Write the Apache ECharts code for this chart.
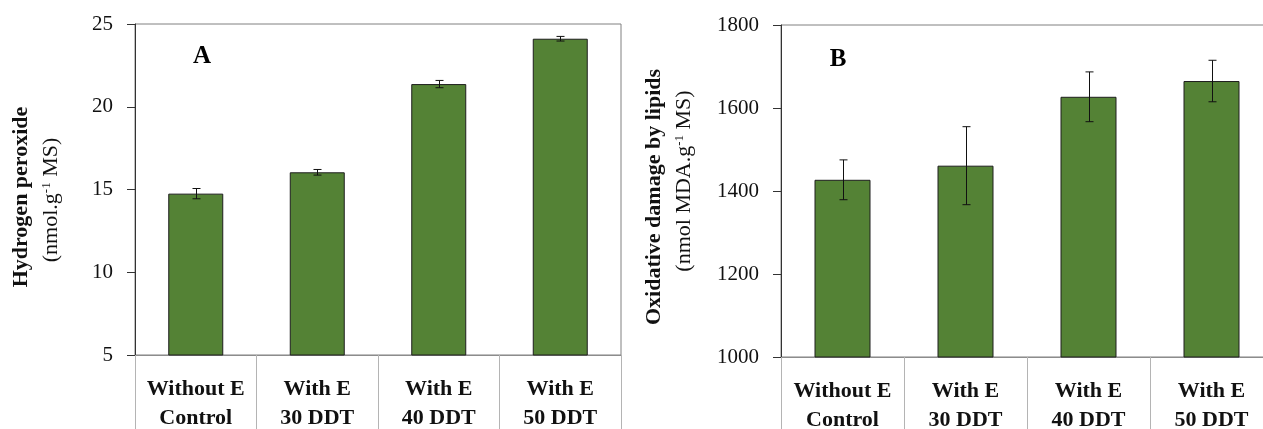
<!DOCTYPE html>
<html>
<head>
<meta charset="utf-8">
<script src="https://cdn.jsdelivr.net/npm/echarts@6/dist/echarts.min.js"></script>
<style>
  html, body { margin: 0; padding: 0; background: #fff; }
  #chart { width: 1263px; height: 429px; }
</style>
</head>
<body>
<div id="chart"></div>
<script>
// Treatment groups shared by both panels
const categories = ['Without E\nControl', 'With E\n30 DDT', 'With E\n40 DDT', 'With E\n50 DDT'];

// Panel A: hydrogen peroxide (nmol.g-1 MS)
const h2o2Values = [14.75, 16.04, 21.37, 24.11];
const h2o2Errors = [0.31, 0.17, 0.22, 0.14];
const h2o2Ticks = { min: 5, max: 25, interval: 5 };

// Panel B: lipid peroxidation (nmol MDA.g-1 MS)
const mdaValues = [1427, 1461, 1627, 1665];
const mdaErrors = [48, 94, 60, 50];
const mdaTicks = { min: 1000, max: 1800, interval: 200 };

const SERIF = '"Liberation Serif", "Times New Roman", serif';
const BAR_GREEN = '#548235';

function errorBarSeries(axisIndex, values, errors, capHalf) {
  return {
    type: 'custom',
    xAxisIndex: axisIndex,
    yAxisIndex: axisIndex,
    z: 10,
    silent: true,
    data: values.map((v, i) => [i, v - errors[i], v + errors[i]]),
    renderItem: function (params, api) {
      const lo = api.coord([api.value(0), api.value(1)]);
      const hi = api.coord([api.value(0), api.value(2)]);
      const x = Math.round(lo[0]) + 0.5;
      const style = { stroke: '#111', lineWidth: 1 };
      return {
        type: 'group',
        children: [
          { type: 'line', shape: { x1: x, y1: hi[1], x2: x, y2: lo[1] }, style },
          { type: 'line', shape: { x1: x - capHalf, y1: hi[1], x2: x + capHalf, y2: hi[1] }, style },
          { type: 'line', shape: { x1: x - capHalf, y1: lo[1], x2: x + capHalf, y2: lo[1] }, style }
        ]
      };
    }
  };
}

function categoryAxis(gridIndex) {
  return {
    type: 'category',
    gridIndex: gridIndex,
    data: categories,
    boundaryGap: true,
    axisLine: { show: true, lineStyle: { color: '#8c8c8c', width: 1 } },
    axisTick: { show: true, interval: 0, inside: false, length: 76, lineStyle: { color: '#b4b4b4', width: 1 } },
    axisLabel: {
      interval: 0,
      margin: 20,
      fontFamily: SERIF,
      fontWeight: 'bold',
      fontSize: 22,
      lineHeight: 29,
      color: '#111',
      align: 'center'
    },
    splitLine: { show: false }
  };
}

function valueAxis(gridIndex, ticks) {
  return {
    type: 'value',
    gridIndex: gridIndex,
    min: ticks.min,
    max: ticks.max,
    interval: ticks.interval,
    axisLine: { show: true, lineStyle: { color: '#333', width: 1 } },
    axisTick: { show: true, inside: false, length: 8, lineStyle: { color: '#333', width: 1 } },
    axisLabel: {
      margin: 22,
      fontFamily: SERIF,
      fontSize: 21,
      color: '#111',
      formatter: function (v) { return String(v); }
    },
    splitLine: { show: false }
  };
}

function barSeries(axisIndex, values, width) {
  return {
    type: 'bar',
    xAxisIndex: axisIndex,
    yAxisIndex: axisIndex,
    data: values,
    barWidth: width,
    itemStyle: { color: BAR_GREEN, borderColor: '#1e1e1e', borderWidth: 1 },
    silent: true
  };
}

function axisTitle(x, y, text, bold) {
  return {
    type: 'text',
    x: x,
    y: y,
    rotation: Math.PI / 2,
    silent: true,
    style: {
      text: text,
      fontFamily: SERIF,
      fontSize: 22,
      fontWeight: bold ? 'bold' : 'normal',
      fill: '#111',
      align: 'center',
      verticalAlign: 'middle',
      rich: {
        sup: { fontFamily: SERIF, fontSize: 13, verticalAlign: 'top', fill: '#111', padding: [0, 0, 8, 0] }
      }
    }
  };
}

function panelLetter(x, y, letter) {
  return {
    type: 'text',
    x: x,
    y: y,
    silent: true,
    style: {
      text: letter,
      fontFamily: SERIF,
      fontWeight: 'bold',
      fontSize: 25,
      fill: '#000',
      align: 'center',
      verticalAlign: 'middle'
    }
  };
}

const chart = echarts.init(document.getElementById('chart'), null, { renderer: 'canvas' });

chart.setOption({
  animation: false,
  backgroundColor: '#ffffff',
  grid: [
    { left: 135, top: 24, right: 642, bottom: 74, outerBoundsMode: 'none', show: true, borderColor: '#808080', borderWidth: 1, backgroundColor: 'transparent' },
    // panel B runs on past the right edge of the page
    { left: 781, top: 25, width: 492, bottom: 72, outerBoundsMode: 'none', show: true, borderColor: '#808080', borderWidth: 1, backgroundColor: 'transparent' }
  ],
  xAxis: [categoryAxis(0), categoryAxis(1)],
  yAxis: [valueAxis(0, h2o2Ticks), valueAxis(1, mdaTicks)],
  series: [
    barSeries(0, h2o2Values, 55),
    errorBarSeries(0, h2o2Values, h2o2Errors, 4),
    barSeries(1, mdaValues, 56),
    errorBarSeries(1, mdaValues, mdaErrors, 4)
  ],
  graphic: [
    axisTitle(21, 197, 'Hydrogen peroxide', true),
    axisTitle(51, 200, '(nmol.g{sup|-1} MS)', false),
    axisTitle(654, 197, 'Oxidative damage by lipids', true),
    axisTitle(684, 181, '(nmol MDA.g{sup|-1} MS)', false),
    panelLetter(202, 57, 'A'),
    panelLetter(838, 60, 'B')
  ]
});
</script>
</body>
</html>
